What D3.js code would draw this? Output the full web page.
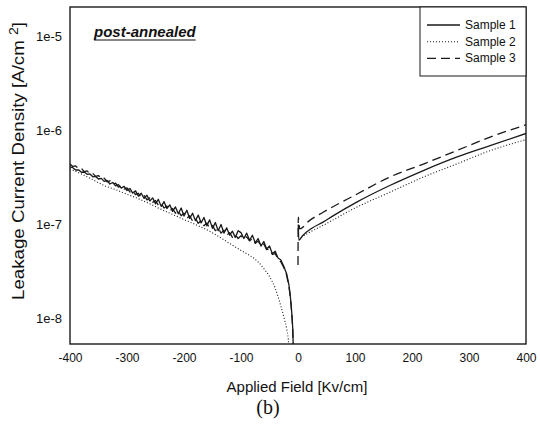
<!DOCTYPE html>
<html>
<head>
<meta charset="utf-8">
<script src="https://cdn.jsdelivr.net/npm/d3@7"></script>
<style>
  body { margin: 0; background: #fff; }
  text { font-family: "Liberation Sans", Arial, sans-serif; fill: #111; }
</style>
</head>
<body>
<div id="canvas"></div>
<script>
// tick values
const xTicks = [-400, -300, -200, -100, 0, 100, 200, 300, 400];
const yTicks = [1e-5, 1e-6, 1e-7, 1e-8];
const seriesNames = ["Sample 1", "Sample 2", "Sample 3"];

// [applied field kV/cm, current density A/cm2]
const s1Neg = [
  [-400, 4.10e-7], [-395, 4.02e-7], [-390, 3.80e-7], [-385, 3.82e-7], [-380, 3.60e-7], [-375, 3.62e-7],
  [-370, 3.42e-7], [-365, 3.45e-7], [-360, 3.22e-7], [-355, 3.25e-7], [-350, 3.05e-7], [-345, 3.10e-7],
  [-340, 2.88e-7], [-335, 2.95e-7], [-330, 2.70e-7], [-325, 2.80e-7], [-320, 2.58e-7], [-315, 2.66e-7],
  [-310, 2.44e-7], [-305, 2.55e-7], [-300, 2.30e-7], [-295, 2.42e-7], [-290, 2.16e-7], [-285, 2.28e-7],
  [-280, 2.00e-7], [-275, 2.15e-7], [-270, 1.90e-7], [-265, 2.05e-7], [-260, 1.78e-7], [-255, 1.92e-7],
  [-250, 1.66e-7], [-245, 1.85e-7], [-240, 1.56e-7], [-235, 1.75e-7], [-230, 1.48e-7], [-225, 1.62e-7],
  [-220, 1.38e-7], [-215, 1.54e-7], [-210, 1.30e-7], [-205, 1.50e-7], [-200, 1.23e-7], [-195, 1.42e-7],
  [-190, 1.16e-7], [-185, 1.32e-7], [-180, 1.10e-7], [-175, 1.26e-7], [-170, 1.04e-7], [-165, 1.19e-7],
  [-160, 9.7e-8], [-155, 1.12e-7], [-150, 9.1e-8], [-145, 1.05e-7], [-140, 8.6e-8], [-135, 1.00e-7],
  [-130, 8.1e-8], [-125, 9.2e-8], [-120, 7.7e-8], [-115, 8.5e-8], [-110, 7.3e-8], [-105, 8.6e-8],
  [-100, 8.2e-8], [-95, 7.1e-8], [-90, 8.1e-8], [-85, 6.8e-8], [-80, 7.7e-8], [-75, 6.4e-8],
  [-70, 7.1e-8], [-65, 5.9e-8], [-60, 6.6e-8], [-55, 5.5e-8], [-50, 5.9e-8], [-45, 4.9e-8],
  [-40, 5.2e-8], [-35, 4.4e-8], [-30, 4.2e-8], [-25, 3.6e-8], [-20, 3.0e-8], [-16, 2.3e-8],
  [-14, 1.85e-8], [-12, 1.4e-8], [-10.5, 1.05e-8], [-9, 7.5e-9], [-8, 4e-9]
];
const s1Pos = [
  [0.5, 1.0e-7], [1.5, 6.8e-8], [8, 7.6e-8], [25, 9.2e-8], [44, 1.06e-7], [60, 1.22e-7],
  [103, 1.73e-7], [161, 2.6e-7], [220, 3.75e-7], [278, 5.2e-7], [337, 6.9e-7], [400, 9.3e-7]
];

const s2Neg = [
  [-400, 3.9e-7], [-380, 3.45e-7], [-360, 3.0e-7], [-340, 2.6e-7], [-320, 2.35e-7], [-300, 2.1e-7],
  [-280, 1.88e-7], [-260, 1.66e-7], [-240, 1.45e-7], [-220, 1.28e-7], [-200, 1.13e-7], [-180, 1.0e-7],
  [-160, 8.8e-8], [-140, 7.5e-8], [-120, 6.3e-8], [-100, 5.3e-8], [-85, 4.7e-8], [-70, 4.0e-8],
  [-60, 3.4e-8], [-50, 2.8e-8], [-40, 2.1e-8], [-30, 1.35e-8], [-25, 1.05e-8], [-20, 7.8e-9],
  [-17, 6e-9], [-15, 4e-9]
];
const s2Pos = [
  [10, 7.6e-8], [21, 8.3e-8], [44, 9.8e-8], [103, 1.53e-7], [161, 2.2e-7], [220, 3.2e-7],
  [278, 4.4e-7], [337, 6.1e-7], [400, 8.0e-7]
];

const s3Neg = [
  [-400, 4.40e-7], [-395, 4.15e-7], [-390, 4.20e-7], [-385, 3.90e-7], [-380, 3.95e-7], [-375, 3.65e-7],
  [-370, 3.72e-7], [-365, 3.45e-7], [-360, 3.50e-7], [-355, 3.25e-7], [-350, 3.32e-7], [-345, 3.05e-7],
  [-340, 3.12e-7], [-335, 2.85e-7], [-330, 2.92e-7], [-325, 2.68e-7], [-320, 2.75e-7], [-315, 2.50e-7],
  [-310, 2.58e-7], [-305, 2.38e-7], [-300, 2.45e-7], [-295, 2.22e-7], [-290, 2.30e-7], [-285, 2.08e-7],
  [-280, 2.15e-7], [-275, 1.95e-7], [-270, 2.05e-7], [-265, 1.83e-7], [-260, 1.92e-7], [-255, 1.72e-7],
  [-250, 1.80e-7], [-245, 1.60e-7], [-240, 1.68e-7], [-235, 1.50e-7], [-230, 1.57e-7], [-225, 1.40e-7],
  [-220, 1.48e-7], [-215, 1.32e-7], [-210, 1.40e-7], [-205, 1.24e-7], [-200, 1.32e-7], [-195, 1.16e-7],
  [-190, 1.24e-7], [-185, 1.09e-7], [-180, 1.17e-7], [-175, 1.03e-7], [-170, 1.10e-7], [-165, 9.7e-8],
  [-160, 1.04e-7], [-155, 9.1e-8], [-150, 9.8e-8], [-145, 8.6e-8], [-140, 9.2e-8], [-135, 8.1e-8],
  [-130, 8.7e-8], [-125, 7.7e-8], [-120, 8.2e-8], [-115, 7.3e-8], [-110, 7.8e-8], [-105, 7.1e-8],
  [-100, 7.6e-8], [-95, 7.0e-8], [-90, 7.4e-8], [-85, 6.7e-8], [-80, 7.1e-8], [-75, 6.3e-8],
  [-70, 6.7e-8], [-65, 5.9e-8], [-60, 6.2e-8], [-55, 5.4e-8], [-50, 5.5e-8], [-45, 4.8e-8],
  [-40, 4.9e-8], [-35, 4.3e-8], [-30, 4.0e-8], [-25, 3.5e-8], [-20, 2.9e-8], [-16, 2.2e-8],
  [-14, 1.8e-8], [-12, 1.35e-8], [-10, 9.5e-9], [-9, 6.5e-9], [-8, 4e-9]
];
const s3Pos = [
  [0, 3.7e-8], [0.5, 1.2e-7], [3, 9.0e-8], [20, 1.1e-7], [44, 1.35e-7], [103, 2.1e-7],
  [161, 3.2e-7], [220, 4.4e-7], [278, 6.1e-7], [337, 8.5e-7], [400, 1.15e-6]
];

const W = 540, H = 426;
const margin = { top: 7, right: 14, bottom: 82, left: 70 };
const plotW = W - margin.left - margin.right;
const plotH = H - margin.top - margin.bottom;

const svg = d3.select("#canvas").append("svg")
    .attr("width", W)
    .attr("height", H);

const x = d3.scaleLinear().domain([-400, 400]).range([0, plotW]);
const y = d3.scaleLog().domain([5.36e-9, 2.06e-5]).range([plotH, 0]);

const g = svg.append("g")
    .attr("transform", `translate(${margin.left},${margin.top})`);

g.append("clipPath").attr("id", "clip")
  .append("rect").attr("width", plotW).attr("height", plotH);

// axes, no tick marks
g.append("g")
    .attr("transform", `translate(0,${plotH})`)
    .call(d3.axisBottom(x).tickValues(xTicks).tickSize(0).tickPadding(9).tickFormat(d => String(d)))
    .call(a => a.select(".domain").remove())
    .selectAll("text").style("font-size", "12px").style("font-family", "Liberation Sans, Arial, sans-serif");

g.append("g")
    .call(d3.axisLeft(y).tickValues(yTicks).tickSize(0).tickPadding(8)
        .tickFormat(d => "1e" + Math.round(Math.log10(d))))
    .call(a => a.select(".domain").remove())
    .selectAll("text").style("font-size", "13px").style("font-family", "Liberation Sans, Arial, sans-serif");

// noisy negative branch drawn straight, smooth positive branch curved
const lineNeg = d3.line()
    .x(d => x(d[0]))
    .y(d => y(d[1]));
const linePos = d3.line()
    .x(d => x(d[0]))
    .y(d => y(d[1]))
    .curve(d3.curveMonotoneX);

const series = [
  { name: seriesNames[0], neg: s1Neg, pos: s1Pos, dash: null, width: 1.3 },
  { name: seriesNames[1], neg: s2Neg, pos: s2Pos, dash: "1,2", width: 1.1 },
  { name: seriesNames[2], neg: s3Neg, pos: s3Pos, dash: "9,5", width: 1.3 }
];

const lines = g.append("g").attr("clip-path", "url(#clip)");
series.forEach(s => {
  [[s.neg, s.name === "Sample 2" ? linePos : lineNeg], [s.pos, linePos]].forEach(([p, gen]) => {
    lines.append("path")
        .datum(p)
        .attr("d", gen)
        .attr("fill", "none")
        .attr("stroke", "#1a1a1a")
        .attr("stroke-width", s.width)
        .attr("stroke-linejoin", "round")
        .attr("stroke-dasharray", s.dash);
  });
});

// frame
g.append("rect")
    .attr("width", plotW)
    .attr("height", plotH)
    .attr("fill", "none")
    .attr("stroke", "#1a1a1a")
    .attr("stroke-width", 1.4);

// legend
const legend = g.append("g").attr("transform", `translate(${plotW - 106},0)`);
legend.append("rect")
    .attr("width", 106)
    .attr("height", 69)
    .attr("fill", "#fff")
    .attr("stroke", "#1a1a1a")
    .attr("stroke-width", 1);

series.forEach((s, i) => {
  const ly = 18 + i * 16.7;
  legend.append("line")
      .attr("x1", 7).attr("x2", 40)
      .attr("y1", ly).attr("y2", ly)
      .attr("stroke", "#1a1a1a")
      .attr("stroke-width", s.width)
      .attr("stroke-dasharray", s.dash);
  legend.append("text")
      .text(s.name)
      .attr("x", 45)
      .attr("y", ly + 4)
      .style("font-size", "12px");
});

// post-annealed label
const title = g.append("text")
    .text("post-annealed")
    .attr("x", 94 - margin.left)
    .attr("y", 37 - margin.top)
    .style("font-size", "15px")
    .style("font-weight", "bold")
    .style("font-style", "italic");
const tw = title.node().getComputedTextLength();
g.append("line")
    .attr("x1", 94 - margin.left).attr("x2", 94 - margin.left + tw)
    .attr("y1", 40 - margin.top).attr("y2", 40 - margin.top)
    .attr("stroke", "#111")
    .attr("stroke-width", 1.2);

// axis titles
svg.append("text")
    .text("Applied Field [Kv/cm]")
    .attr("x", 297)
    .attr("y", 392)
    .attr("text-anchor", "middle")
    .style("font-size", "15px");

const yLab = svg.append("text")
    .attr("transform", "translate(24,161) rotate(-90)")
    .attr("text-anchor", "middle")
    .attr("textLength", 278)
    .attr("lengthAdjust", "spacingAndGlyphs")
    .style("font-size", "16px");
yLab.append("tspan").text("Leakage Current Density [A/cm  ");
yLab.append("tspan").text("2").attr("dy", -6).style("font-size", "12px");
yLab.append("tspan").text("]").attr("dy", 6);

svg.append("text")
    .text("(b)")
    .attr("x", 268)
    .attr("y", 414)
    .attr("text-anchor", "middle")
    .style("font-family", "Liberation Serif, Times New Roman, serif")
    .style("font-size", "20px");
</script>
</body>
</html>
